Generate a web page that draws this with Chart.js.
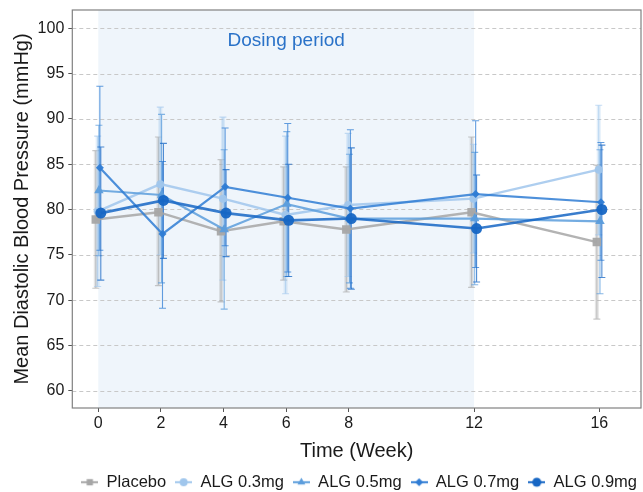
<!DOCTYPE html>
<html><head><meta charset="utf-8">
<script src="https://cdn.jsdelivr.net/npm/chart.js@4.4.1/dist/chart.umd.min.js"></script>
<style>html,body{margin:0;padding:0;background:#fff;}#wrap{width:643px;height:492px;}</style>
</head><body><div id="wrap"><canvas id="c" width="643" height="492"></canvas></div>
<script>
// ---- data ----
const weeks = [0, 2, 4, 6, 8, 12, 16];
const seriesNames = ['Placebo', 'ALG 0.3mg', 'ALG 0.5mg', 'ALG 0.7mg', 'ALG 0.9mg'];
const placeboMean = [78.9, 79.7, 77.6, 78.7, 77.8, 79.7, 76.4];
const placeboLow  = [71.3, 71.6, 69.8, 72.2, 70.9, 71.4, 67.9];
const placeboHigh = [86.5, 88.0, 85.5, 84.7, 84.7, 88.0, 84.9];
const alg03Mean = [79.8, 82.8, 81.2, 79.4, 80.5, 81.2, 84.4];
const alg03Low  = [71.5, 75.0, 72.2, 70.7, 72.6, 75.2, 77.2];
const alg03High = [88.1, 91.3, 90.2, 88.1, 88.4, 87.2, 91.5];
const alg05Mean = [82.1, 81.6, 77.8, 80.6, 79.0, 79.0, 78.7];
const alg05Low  = [74.9, 71.9, 69.0, 72.6, 71.9, 71.7, 70.7];
const alg05High = [89.3, 90.5, 86.6, 88.6, 86.1, 86.3, 86.6];
const alg07Mean = [84.6, 77.3, 82.5, 81.3, 80.1, 81.7, 80.8];
const alg07Low  = [75.5, 69.1, 76.0, 73.1, 71.3, 73.6, 74.4];
const alg07High = [93.6, 85.3, 89.0, 89.5, 88.8, 89.8, 87.4];
const alg09Mean = [79.6, 81.0, 79.6, 78.8, 79.0, 77.9, 80.0];
const alg09Low  = [72.2, 74.6, 74.8, 72.6, 71.2, 72.0, 72.5];
const alg09High = [86.9, 87.3, 84.4, 85.0, 86.8, 83.8, 87.1];
const xTicks = [0, 2, 4, 6, 8, 12, 16];
const yTicks = [60, 65, 70, 75, 80, 85, 90, 95, 100];
const dosingStart = 0, dosingEnd = 12;
const dosingLabel = 'Dosing period';
const xTitle = 'Time (Week)';
const yTitle = 'Mean Diastolic Blood Pressure (mmHg)';

// ---- styles ----
const FONT = "'Liberation Sans', Arial, sans-serif";
const styles = [
  {rgb: '166,166,166', marker: 'rect',     radius: 6,   lw: 2.4, dodge: -0.08, band: true,  order: 4},
  {rgb: '160,198,236', marker: 'circle',   radius: 4,   lw: 2.4, dodge: -0.02, band: true,  order: 3},
  {rgb: '92,157,220',  marker: 'triangle', radius: 5.5, lw: 2.2, dodge: 0.02,  band: false, order: 2},
  {rgb: '47,124,212',  marker: 'rectRot',  radius: 4,   lw: 2.2, dodge: 0.05,  band: false, order: 1},
  {rgb: '22,102,196',  marker: 'circle',   radius: 5.5, lw: 2.6, dodge: 0.08,  band: false, order: 0},
];
const means = [placeboMean, alg03Mean, alg05Mean, alg07Mean, alg09Mean];
const lows = [placeboLow, alg03Low, alg05Low, alg07Low, alg09Low];
const highs = [placeboHigh, alg03High, alg05High, alg07High, alg09High];

const datasets = seriesNames.map((name, k) => {
  const s = styles[k];
  return {
    label: name,
    data: weeks.map((w, i) => ({x: w + s.dodge, y: means[k][i]})),
    lows: lows[k], highs: highs[k], st: s,
    borderColor: `rgba(${s.rgb},0.85)`,
    backgroundColor: `rgba(${s.rgb},0.95)`,
    borderWidth: s.lw,
    pointStyle: s.marker,
    pointRadius: s.radius,
    pointBorderWidth: 0,
    pointBackgroundColor: `rgba(${s.rgb},0.95)`,
    tension: 0,
    order: s.order,
  };
});

// legend icons
const icons = styles.map(s => {
  const c = document.createElement('canvas');
  c.width = 17; c.height = 12;
  const g = c.getContext('2d');
  g.strokeStyle = `rgba(${s.rgb},0.9)`; g.lineWidth = 2.2;
  g.beginPath(); g.moveTo(0, 6); g.lineTo(17, 6); g.stroke();
  g.fillStyle = `rgb(${s.rgb})`;
  const r = Math.min(s.radius, 4.5);
  g.beginPath();
  if (s.marker === 'rect') { g.rect(8.5 - r*0.7, 6 - r*0.7, r*1.4, r*1.4); }
  else if (s.marker === 'triangle') { g.moveTo(8.5, 6 - r); g.lineTo(8.5 + r*0.87, 6 + r*0.5); g.lineTo(8.5 - r*0.87, 6 + r*0.5); g.closePath(); }
  else if (s.marker === 'rectRot') { g.moveTo(8.5, 6 - r); g.lineTo(8.5 + r, 6); g.lineTo(8.5, 6 + r); g.lineTo(8.5 - r, 6); g.closePath(); }
  else { g.arc(8.5, 6, r, 0, Math.PI*2); }
  g.fill();
  return c;
});

const decor = {
  id: 'decor',
  afterLayout(chart) {
    const lg = chart.legend;
    if (lg) { lg.left += 5; lg.right += 5; lg.top += 2; lg.bottom += 2; }
  },
  beforeDraw(chart) {
    const {ctx, chartArea: a, scales: {x}} = chart;
    ctx.save();
    ctx.fillStyle = '#eff5fb';
    const x0 = x.getPixelForValue(dosingStart), x1 = x.getPixelForValue(dosingEnd);
    ctx.fillRect(x0, a.top, x1 - x0, a.bottom - a.top);
    ctx.restore();
  },
  beforeDatasetsDraw(chart) {
    const {ctx, chartArea: a, scales: {x, y}} = chart;
    ctx.save();
    // dashed horizontal grid
    ctx.strokeStyle = '#c8c8c8'; ctx.lineWidth = 1; ctx.setLineDash([4, 3]);
    yTicks.forEach(v => {
      const py = Math.round(y.getPixelForValue(v)) + 0.5;
      ctx.beginPath(); ctx.moveTo(a.left, py); ctx.lineTo(a.right, py); ctx.stroke();
    });
    ctx.setLineDash([]);
    // error bars
    chart.data.datasets.forEach(ds => {
      const s = ds.st;
      ds.data.forEach((p, i) => {
        const px = x.getPixelForValue(p.x);
        const yl = y.getPixelForValue(ds.lows[i]), yh = y.getPixelForValue(ds.highs[i]);
        if (s.band) {
          ctx.strokeStyle = `rgba(${s.rgb},0.3)`; ctx.lineWidth = 4;
          ctx.beginPath(); ctx.moveTo(px, yl); ctx.lineTo(px, yh); ctx.stroke();
        }
        ctx.strokeStyle = `rgba(${s.rgb},${s.band ? 0.6 : 0.75})`; ctx.lineWidth = 1.1;
        ctx.beginPath();
        ctx.moveTo(px, yl); ctx.lineTo(px, yh);
        ctx.moveTo(px - 3.5, yl); ctx.lineTo(px + 3.5, yl);
        ctx.moveTo(px - 3.5, yh); ctx.lineTo(px + 3.5, yh);
        ctx.stroke();
      });
    });
    ctx.restore();
  },
  afterDraw(chart) {
    const {ctx, chartArea: a, scales: {x, y}} = chart;
    ctx.save();
    ctx.fillStyle = '#2a72c8';
    ctx.font = `19px ${FONT}`;
    ctx.textAlign = 'center'; ctx.textBaseline = 'middle';
    ctx.fillText(dosingLabel, x.getPixelForValue((dosingStart + dosingEnd) / 2), y.getPixelForValue(98.65));
    ctx.strokeStyle = '#808080'; ctx.lineWidth = 1.2;
    ctx.strokeRect(a.left, a.top, a.right - a.left, a.bottom - a.top);
    ctx.restore();
  }
};

new Chart(document.getElementById('c'), {
  type: 'line',
  data: {datasets},
  plugins: [decor],
  options: {
    responsive: false, animation: false, devicePixelRatio: 1,
    layout: {autoPadding: false, padding: {left: 0, right: 2, top: 10, bottom: -6.5}},
    plugins: {
      tooltip: {enabled: false},
      legend: {
        position: 'bottom', align: 'end',
        labels: {
          usePointStyle: true, pointStyleWidth: 17, boxHeight: 12, padding: 9,
          color: '#1a1a1a', font: {family: FONT, size: 16.5},
          generateLabels: chart => Chart.defaults.plugins.legend.labels.generateLabels(chart)
            .sort((a, b) => a.datasetIndex - b.datasetIndex)
            .map(l => Object.assign(l, {pointStyle: icons[l.datasetIndex]}))
        }
      }
    },
    scales: {
      x: {
        type: 'linear', min: -0.83, max: 17.33,
        afterBuildTicks: s => { s.ticks = xTicks.map(v => ({value: v})); },
        afterFit: s => { s.height = 55; s.paddingLeft = 0; s.paddingRight = 0; },
        ticks: {color: '#1a1a1a', font: {family: FONT, size: 16}, padding: 2, maxRotation: 0, autoSkip: false},
        grid: {drawOnChartArea: false, drawTicks: true, tickLength: 4, tickColor: '#555'},
        border: {display: false},
        title: {display: true, text: xTitle, color: '#1a1a1a', font: {family: FONT, size: 20}, padding: {top: 0, bottom: 0}}
      },
      y: {
        min: 58.09, max: 102.02,
        afterBuildTicks: s => { s.ticks = yTicks.map(v => ({value: v})); },
        afterFit: s => { s.width = 72.3; s.paddingTop = 0; s.paddingBottom = 0; },
        ticks: {color: '#1a1a1a', font: {family: FONT, size: 16}, padding: 4},
        grid: {drawOnChartArea: false, drawTicks: true, tickLength: 4, tickColor: '#555'},
        border: {display: false},
        title: {display: true, text: yTitle, color: '#1a1a1a', font: {family: FONT, size: 20}, padding: {top: 10, bottom: 0}}
      }
    }
  }
});
</script></body></html>
